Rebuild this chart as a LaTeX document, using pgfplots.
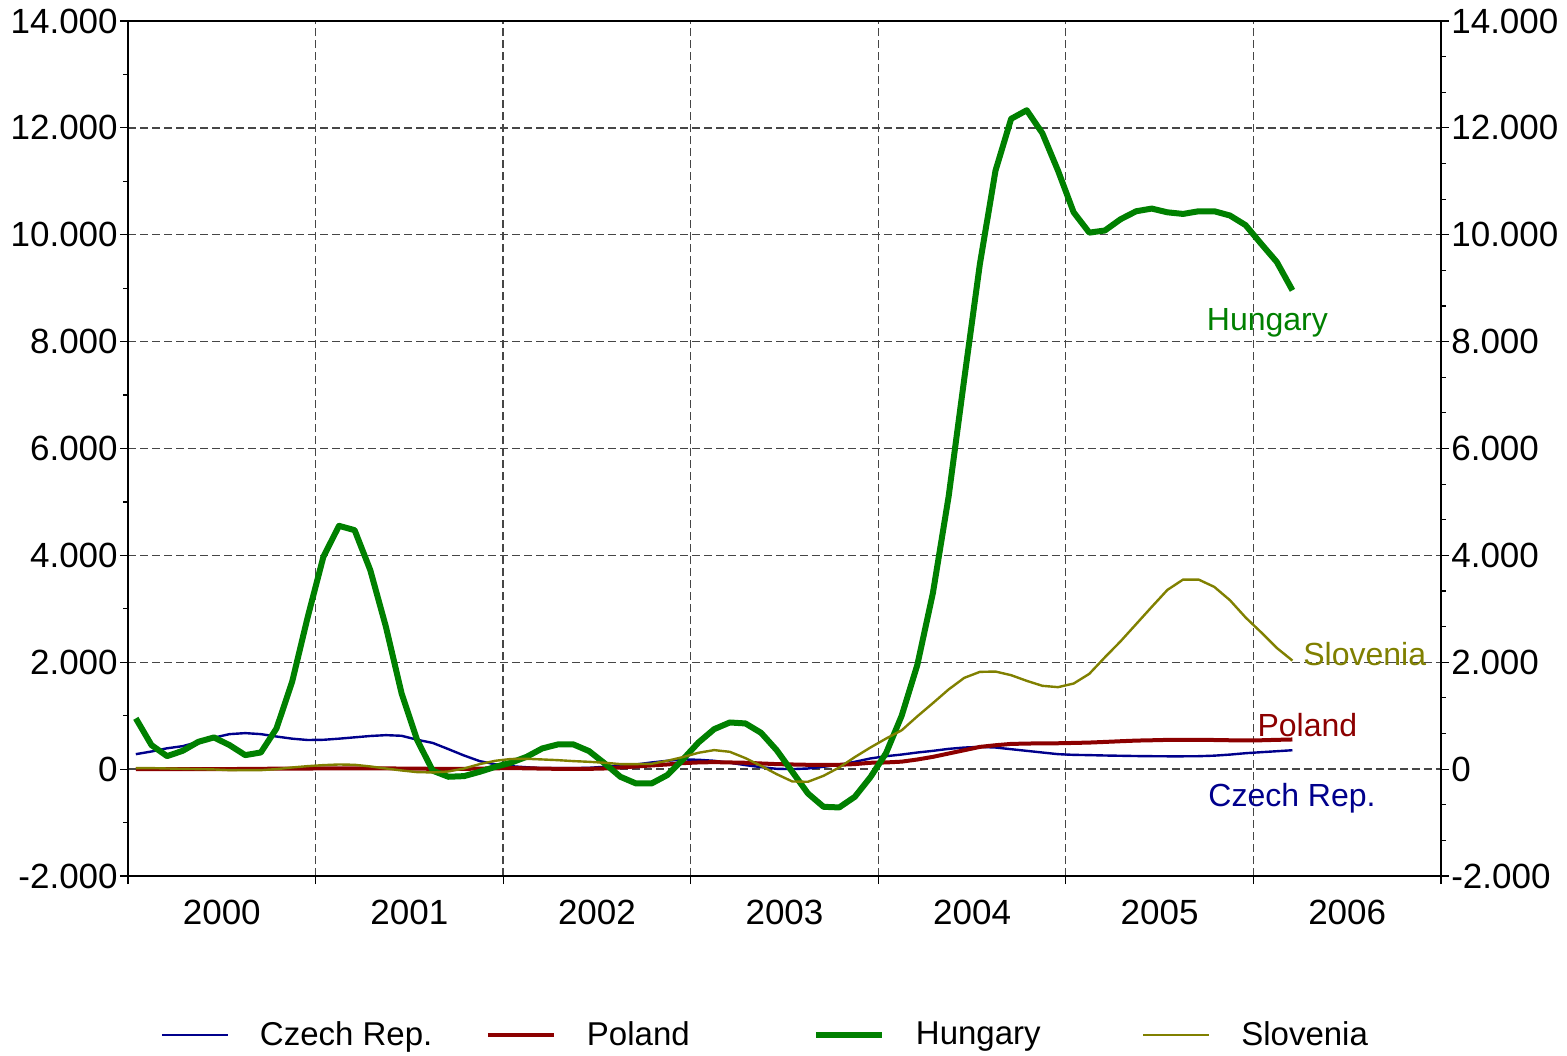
\documentclass[border=0pt]{standalone}
\usepackage{fontspec}
\setmainfont{Liberation Sans}
\usepackage{pgfplots}
\pgfplotsset{compat=1.18}
\usepackage{pgfplotstable}

\definecolor{czcol}{RGB}{0,0,140}
\definecolor{plcol}{RGB}{140,0,0}
\definecolor{hucol}{RGB}{0,128,0}
\definecolor{slcol}{RGB}{128,128,0}
\definecolor{gridcol}{RGB}{70,70,70}

% monthly data, t = 0 is January 2000
\pgfplotstableread{
t cz pl hu sl
0 280 0 950 19
1 330 0 450 19
2 390 0 243 12
3 430 0 343 6
4 510 0 511 0
5 590 0 593 -6
6 655 0 449 -19
7 674 5 262 -19
8 655 5 312 -19
9 610 10 761 0
10 570 10 1634 31
11 545 10 2850 56
12 549 15 3973 75
13 570 15 4553 87
14 595 15 4472 81
15 620 15 3724 50
16 636 15 2663 12
17 624 10 1422 -25
18 550 10 543 -56
19 490 5 -30 -62
20 374 5 -143 -44
21 255 5 -131 12
22 150 10 -50 94
23 90 15 43 156
24 55 20 120 190
25 35 15 230 193
26 19 10 387 181
27 19 5 462 168
28 19 5 462 150
29 25 5 337 137
30 44 12 106 119
31 69 31 -143 94
32 87 50 -268 94
33 125 69 -268 100
34 156 87 -112 156
35 181 112 181 225
36 175 125 499 306
37 156 131 748 356
38 119 125 873 324
39 75 119 855 206
40 37 106 680 62
41 6 94 355 -94
42 0 87 -50 -231
43 12 81 -455 -237
44 44 81 -705 -125
45 81 81 -717 31
46 137 94 -518 225
47 200 119 -150 405
48 242 125 300 572
49 273 140 1000 727
50 311 180 1950 988
51 342 230 3300 1236
52 379 292 5100 1491
53 404 354 7300 1708
54 416 416 9450 1820
55 404 447 11200 1826
56 373 472 12170 1758
57 342 478 12330 1652
58 311 484 11900 1559
59 280 484 11200 1534
60 267 490 10420 1602
61 262 497 10040 1783
62 255 509 10080 2093
63 250 522 10290 2391
64 245 534 10440 2714
65 242 540 10490 3037
66 240 547 10420 3354
67 240 547 10390 3547
68 242 547 10440 3547
69 252 545 10440 3410
70 272 540 10360 3161
71 298 538 10180 2838
72 317 540 9830 2559
73 335 548 9490 2267
74 354 555 8960 2031
}\datatab

\begin{document}
\begin{tikzpicture}
\begin{axis}[
    scale only axis,
    width=656.5pt, height=427.5pt,
    xmin=2000, xmax=2007,
    ymin=-2000, ymax=14000,
    clip=false,
    scaled y ticks=false,
    xtick={2000,2001,...,2007},
    xticklabels={},
    extra x ticks={2000.5,2001.5,2002.5,2003.5,2004.5,2005.5,2006.5},
    extra x tick labels={2000,2001,2002,2003,2004,2005,2006},
    extra x tick style={grid=none, major tick length=0pt,
        tick label style={yshift=-8.5pt}},
    ytick={-2000,0,2000,4000,6000,8000,10000,12000,14000},
    yticklabels={-2.000,0,2.000,4.000,6.000,8.000,10.000,12.000,14.000},
    minor y tick num=1,
    tick align=outside,
    xtick pos=left, ytick pos=left,
    major tick length=4pt, minor tick length=2.5pt,
    tick style={black, line width=0.6pt},
    grid=major,
    major grid style={gridcol, dash pattern=on 4pt off 2pt, line width=0.65pt},
    axis line style={line width=0.75pt},
    tick label style={font=\fontsize{17.5}{20}\selectfont},
    yticklabel style={inner xsep=1pt},
    legend columns=4,
    legend style={draw=none, fill=none, inner sep=0pt,
        at={(rel axis cs:0.0245,-0.186)}, anchor=west,
        font=\fontsize{16.5}{19}\selectfont,
        nodes={inner xsep=0pt},
        /tikz/every odd column/.append style={column sep=15.5pt}},
    legend image code/.code={\draw[#1] (0pt,0pt) -- (33pt,0pt);},
]
\addplot[czcol, line width=1.2pt, line join=round] table[x expr={2000+(\thisrow{t}+0.5)/12}, y=cz] {\datatab};
\addlegendentry{\makebox[113pt][l]{Czech Rep.}}
\addplot[plcol, line width=2pt, line join=round] table[x expr={2000+(\thisrow{t}+0.5)/12}, y=pl] {\datatab};
\addlegendentry{\makebox[113pt][l]{Poland}}
\addplot[hucol, line width=3pt, line join=round] table[x expr={2000+(\thisrow{t}+0.5)/12}, y=hu] {\datatab};
\addlegendentry{\makebox[113pt][l]{Hungary}}
\addplot[slcol, line width=1.2pt, line join=round] table[x expr={2000+(\thisrow{t}+0.5)/12}, y=sl] {\datatab};
\addlegendentry{Slovenia}

\node[anchor=base west, inner sep=0pt, text=hucol, font=\fontsize{16}{19}\selectfont] at (axis cs:2005.75,8215) {Hungary};
\node[anchor=base west, inner sep=0pt, text=slcol, font=\fontsize{16}{19}\selectfont] at (axis cs:2006.264,1946) {Slovenia};
\node[anchor=base west, inner sep=0pt, text=plcol, font=\fontsize{16}{19}\selectfont] at (axis cs:2006.02,605) {Poland};
\node[anchor=base west, inner sep=0pt, text=czcol, font=\fontsize{16}{19}\selectfont] at (axis cs:2005.758,-705) {Czech Rep.};

% page frame with the proportions of the reference
\path (rel axis cs:-0.0975,-0.2094) rectangle (rel axis cs:1.096,1.0246);
\end{axis}
\begin{axis}[
    scale only axis,
    width=656.5pt, height=427.5pt,
    xmin=2000, xmax=2007,
    ymin=-2000, ymax=14000,
    scaled y ticks=false,
    axis x line=none,
    axis y line*=right,
    ytick={-2000,0,2000,4000,6000,8000,10000,12000,14000},
    yticklabels={-2.000,0,2.000,4.000,6.000,8.000,10.000,12.000,14.000},
    minor y tick num=2,
    tick align=outside,
    major tick length=4pt, minor tick length=2.5pt,
    tick style={black, line width=0.6pt},
    axis line style={line width=0.75pt, -},
    tick label style={font=\fontsize{17.5}{20}\selectfont},
    yticklabel style={inner xsep=1pt},
]
\end{axis}
\end{tikzpicture}
\end{document}
